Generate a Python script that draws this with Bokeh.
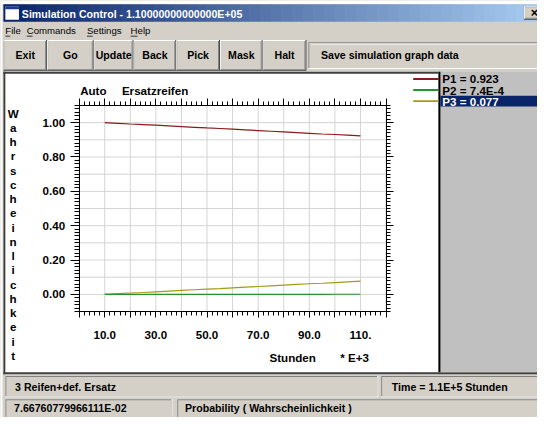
from bokeh.plotting import figure
from bokeh.models import Range1d, LinearAxis, FixedTicker, BoxAnnotation, Label
from bokeh.embed import file_html
from bokeh.resources import INLINE

# ---------------- data ----------------
hours = [10, 15, 20, 25, 30, 35, 40, 45, 50, 55, 60, 65, 70, 75, 80, 85, 90, 95, 100, 105, 110]
p1 = [1.000, 0.996, 0.992, 0.989, 0.985, 0.981, 0.977, 0.973, 0.969, 0.966, 0.962,
      0.958, 0.954, 0.950, 0.946, 0.942, 0.938, 0.934, 0.931, 0.927, 0.923]
p2 = [0.0000, 0.0000, 0.0001, 0.0001, 0.0001, 0.0002, 0.0002, 0.0002, 0.0003, 0.0003, 0.0003,
      0.0004, 0.0004, 0.0005, 0.0005, 0.0005, 0.0006, 0.0006, 0.0007, 0.0007, 0.0007]
p3 = [0.000, 0.004, 0.008, 0.011, 0.015, 0.019, 0.023, 0.027, 0.031, 0.034, 0.038,
      0.042, 0.046, 0.050, 0.054, 0.058, 0.062, 0.065, 0.069, 0.073, 0.077]
series_colors = ["#8B1A1A", "#2A922A", "#A39B16"]
legend_labels = ["P1 = 0.923", "P2 = 7.4E-4", "P3 = 0.077"]

x_min, x_max = 0, 120
y_min, y_max = -0.1, 1.1
x_ticks = [0, 10, 20, 30, 40, 50, 60, 70, 80, 90, 100, 110, 120]
x_tick_labels = ["", "10.0", "", "30.0", "", "50.0", "", "70.0", "", "90.0", "", "110.", ""]
y_ticks = [0.0, 0.2, 0.4, 0.6, 0.8, 1.0]
y_tick_labels = ["0.00", "0.20", "0.40", "0.60", "0.80", "1.00"]

window_title = "Simulation Control - 1.10000000000000E+05"
menu_items = ["File", "Commands", "Settings", "Help"]
buttons = ["Exit", "Go", "Update", "Back", "Pick", "Mask", "Halt"]
save_text = "Save simulation graph data"
chart_title = ["Auto", "Ersatzreifen"]
y_axis_title = "Wahrscheinlichkeit"
x_axis_title = ["Stunden", "* E+3"]
status_texts = ["3 Reifen+def. Ersatz", "Time = 1.1E+5 Stunden",
                "7.66760779966111E-02", "Probability ( Wahrscheinlichkeit )"]

# ---------------- layout (reference pixels) ----------------
W, H = 537, 417
RW, RH = 553, 433
SX, SY = W / RW, H / RH
BOX_L, BOX_R, BOX_T, BOX_B = 81, 397, 109, 323   # chart box in reference pixels
FONT = "Liberation Sans"
FACE = "#D4D0C8"

kx = (x_max - x_min) / (BOX_R - BOX_L)
ky = (y_max - y_min) / (BOX_B - BOX_T)
xr = Range1d(x_min - BOX_L * kx, x_max + (RW - BOX_R) * kx)
yr = Range1d(y_min - (RH - BOX_B) * ky, y_max + BOX_T * ky)


def sx(x):
    return x * SX


def sy(y):
    return H - y * SY


def fs(px):
    return f"{px * SY:.1f}px"


p = figure(width=W, height=H, x_range=xr, y_range=yr,
           output_backend="svg", toolbar_location=None, title=None,
           x_axis_location=None, y_axis_location=None,
           min_border_left=0, min_border_right=0, min_border_top=0, min_border_bottom=0)
p.background_fill_color = FACE
p.border_fill_color = FACE
p.outline_line_color = None
p.xgrid.visible = False
p.ygrid.visible = False


def box(x0, y0, x1, y1, color, level="image"):
    p.add_layout(BoxAnnotation(left=sx(x0), right=sx(x1), top=sy(y0), bottom=sy(y1),
                               left_units="screen", right_units="screen",
                               top_units="screen", bottom_units="screen",
                               fill_color=color, fill_alpha=1.0, line_color=None, level=level))


def label(text, x, y, size=12, bold=True, color="black", align="left"):
    p.add_layout(Label(x=sx(x), y=sy(y), x_units="screen", y_units="screen", text=text,
                       text_font=FONT, text_font_size=fs(size),
                       text_font_style="bold" if bold else "normal",
                       text_color=color, text_align=align, text_baseline="middle"))


def raised(x0, y0, x1, y1):
    box(x0, y0, x1, y1, "#404040")
    box(x0, y0, x1 - 1, y1 - 1, "white")
    box(x0 + 1, y0 + 1, x1 - 1, y1 - 1, "#808080")
    box(x0 + 1, y0 + 1, x1 - 2, y1 - 2, FACE)


def sunken(x0, y0, x1, y1, face=FACE):
    box(x0, y0, x1, y1, "white")
    box(x0, y0, x1 - 1, y1 - 1, "#808080")
    box(x0 + 1, y0 + 1, x1 - 1, y1 - 1, face)


# ---------------- window chrome ----------------
box(0, 0, RW, 4, "white")
box(0, 0, 2, RH, "white")
c0, c1 = (10, 36, 106), (166, 202, 240)
n = 50
for i in range(n):
    t = i / (n - 1)
    col = "#%02x%02x%02x" % tuple(int(a + (b - a) * t) for a, b in zip(c0, c1))
    box(3 + 550 * i / n, 4, 3 + 550 * (i + 1) / n + 0.6, 22, col)
box(5, 6, 19, 20, "white")
box(5, 6, 19, 9, "#1C3C8C")
label(window_title, 22, 13.5, size=11, color="white")
raised(539, 6, 556, 20)
label("\u00d7", 546, 13, size=13, bold=True)

menu_x = [5, 27, 89, 134]
menu_ul = [5, 6, 6, 7]
for txt, mx, uw in zip(menu_items, menu_x, menu_ul):
    label(txt, mx, 31, size=10, bold=False)
    box(mx, 36.5, mx + uw, 37.5, "black")

btn_edges = [3, 48, 96, 137, 181, 226, 270, 315]
for i, txt in enumerate(buttons):
    x0, x1 = btn_edges[i], btn_edges[i + 1]
    raised(x0, 41, x1, 73)
    label(txt, (x0 + x1) / 2, 57, size=11, align="center")
sunken(317, 43, RW + 2, 71)
box(319, 45, RW, 46, "#E8E8E8")
label(save_text, 330, 57, size=11)

# chart area
box(3, 74, 451, 388, "white")
box(3, 74, 451, 76, "#404040")
box(3, 74, 5, 388, "#404040")
box(3, 386, RW, 388, "#404040")
box(451, 74, RW, 386, "#C0C0C0")
box(451, 74, 453, 386, "black")

# legend
leg_y = [81.5, 93, 104.5]
box(453, 99, RW, 110, "#0A246A")
for txt, ly, col, i in zip(legend_labels, leg_y, series_colors, range(3)):
    box(425, ly - 1, 451, ly + 1, col)
    label(txt, 455, ly, size=12, color="white" if i == 2 else "black")

# status bars
sunken(5, 390, 389, 412)
sunken(392, 390, RW + 2, 412)
sunken(5, 414, 177, RH + 2)
sunken(182, 414, RW + 2, RH + 2)
label(status_texts[0], 15, 401, size=11)
label(status_texts[1], 403, 401, size=11)
label(status_texts[2], 14, 423.5, size=11)
label(status_texts[3], 190, 423.5, size=11)

# chart texts
label(chart_title[0], 82, 93, size=12)
label(chart_title[1], 125, 93, size=12)
for i, ch in enumerate(y_axis_title):
    label(ch, 13, 117 + 14.8 * i, size=12, align="center")
label(x_axis_title[0], 277, 371, size=12)
label(x_axis_title[1], 350, 371, size=12)

# ---------------- grid lines (chart data space) ----------------
x_minor = [2 * i for i in range(61)]
y_minor = [round(-0.1 + 0.02 * i, 2) for i in range(61)]
y_grid = [round(-0.1 + 0.1 * i, 1) for i in range(13)]
GRID = "#D4D4D4"
p.segment(x0=x_ticks, y0=[y_min] * len(x_ticks), x1=x_ticks, y1=[y_max] * len(x_ticks),
          line_color=GRID, line_width=1)
p.segment(x0=[x_min] * len(y_grid), y0=y_grid, x1=[x_max] * len(y_grid), y1=y_grid,
          line_color=GRID, line_width=1)

# ---------------- axes (fixed at the chart box) ----------------
common = dict(axis_line_color="black", major_tick_line_color="black", minor_tick_line_color="black",
              major_tick_in=0, minor_tick_in=0, major_label_text_font=FONT,
              major_label_text_font_style="bold", major_label_text_font_size=fs(12),
              major_label_text_color="black")

xb = LinearAxis(ticker=FixedTicker(ticks=x_ticks, minor_ticks=x_minor),
                major_label_overrides=dict(zip(x_ticks, x_tick_labels)),
                fixed_location=y_min, bounds=(x_min, x_max),
                major_tick_out=6, minor_tick_out=4, major_label_standoff=13, **common)
xt = LinearAxis(ticker=FixedTicker(ticks=x_ticks, minor_ticks=x_minor),
                major_label_overrides={t: "" for t in x_ticks},
                fixed_location=y_max, bounds=(x_min, x_max),
                major_tick_out=7, minor_tick_out=4, major_label_standoff=0, **common)
yl = LinearAxis(ticker=FixedTicker(ticks=y_ticks, minor_ticks=y_minor),
                major_label_overrides=dict(zip(y_ticks, y_tick_labels)),
                fixed_location=x_min, bounds=(y_min, y_max),
                major_tick_out=9, minor_tick_out=5, major_label_standoff=5, **common)
yrx = LinearAxis(ticker=FixedTicker(ticks=y_ticks, minor_ticks=y_minor),
                 major_label_overrides={t: "" for t in y_ticks},
                 fixed_location=x_max, bounds=(y_min, y_max),
                 major_tick_out=7, minor_tick_out=4, major_label_standoff=0, **common)
p.add_layout(xb, "below")
p.add_layout(xt, "above")
p.add_layout(yl, "left")
p.add_layout(yrx, "right")

# ---------------- data lines ----------------
p.line(hours, p1, line_color=series_colors[0], line_width=1.2)
p.line(hours, p3, line_color=series_colors[2], line_width=1.2)
p.line(hours, p2, line_color=series_colors[1], line_width=1.2)

open("out.html", "w").write(file_html(p, INLINE))
